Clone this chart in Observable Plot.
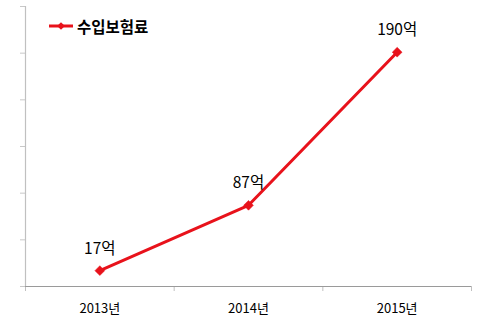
<!DOCTYPE html>
<html>
<head>
<meta charset="utf-8">
<script src="https://cdn.jsdelivr.net/npm/d3@7"></script>
<script src="https://cdn.jsdelivr.net/npm/@observablehq/plot@0.6"></script>
<style>
  html, body { margin: 0; padding: 0; background: #fff; }
  #wrap { position: relative; width: 500px; height: 322px; font-family: "Noto Sans CJK KR", "Noto Sans", sans-serif; }
  #legend { position: absolute; left: 49px; top: 15px; display: flex; align-items: center; }
  #legend span { font-weight: bold; font-size: 15.5px; color: #000; margin-left: 2px; }
</style>
</head>
<body>
<div id="wrap">
  <div id="chart"></div>
  <div id="legend"></div>
</div>
<script>
// Categories (x labels)
const years = ["2013년", "2014년", "2015년"];
// Plotted values (positions)
const values = [17, 87, 251];
// Data label texts as printed on the chart
const valueLabels = ["17억", "87억", "190억"];
// Series name
const seriesName = "수입보험료";
// Y tick values (no labels shown)
const yTicks = [0, 50, 100, 150, 200, 250, 300];

const red = "#e8121b";
const data = years.map((y, i) => ({year: y, pos: i + 0.5, value: values[i], label: valueLabels[i]}));

const chart = Plot.plot({
  width: 500,
  height: 322,
  marginLeft: 25,
  marginRight: 29,
  marginTop: 6,
  marginBottom: 36,
  style: {fontFamily: "'Noto Sans CJK KR', 'Noto Sans', sans-serif", background: "#fff"},
  x: {domain: [0, years.length], label: null},
  y: {domain: [0, 300], label: null},
  marks: [
    Plot.axisY({ticks: yTicks, tickSize: 5, tickFormat: () => "", stroke: "#c8c8c8", label: null}),
    Plot.axisX({ticks: d3.range(0, years.length + 1), tickSize: 5, tickFormat: () => "", stroke: "#c0c0c0", label: null}),
    Plot.axisX({ticks: data.map(d => d.pos), tickSize: 0, tickPadding: 17, fontSize: 13, fill: "#000", label: null,
      tickFormat: (t) => years[Math.floor(t)]}),
    Plot.ruleX([0], {stroke: "#c0c0c0", strokeWidth: 1.2}),
    Plot.ruleY([0], {stroke: "#9a9a9a", strokeWidth: 1.2}),
    Plot.line(data, {x: "pos", y: "value", stroke: red, strokeWidth: 3}),
    Plot.dot(data, {x: "pos", y: "value", symbol: "square", rotate: 45, r: 3.9, fill: red, stroke: red, strokeWidth: 0.5}),
    Plot.text(data, {x: "pos", y: "value", text: "label", dy: -22, lineAnchor: "middle", fontSize: 15.5, fill: "#000"})
  ]
});
document.getElementById("chart").appendChild(chart);

// Legend swatch + text
const lg = document.getElementById("legend");
const sw = d3.create("svg").attr("width", 26).attr("height", 20);
sw.append("line").attr("x1", 0).attr("x2", 24).attr("y1", 10).attr("y2", 10).attr("stroke", red).attr("stroke-width", 3);
sw.append("path").attr("d", d3.symbol(d3.symbolSquare, 30)()).attr("transform", "translate(12,10) rotate(45)").attr("fill", red);
lg.appendChild(sw.node());
const sp = document.createElement("span");
sp.textContent = seriesName;
lg.appendChild(sp);
</script>
</body>
</html>
